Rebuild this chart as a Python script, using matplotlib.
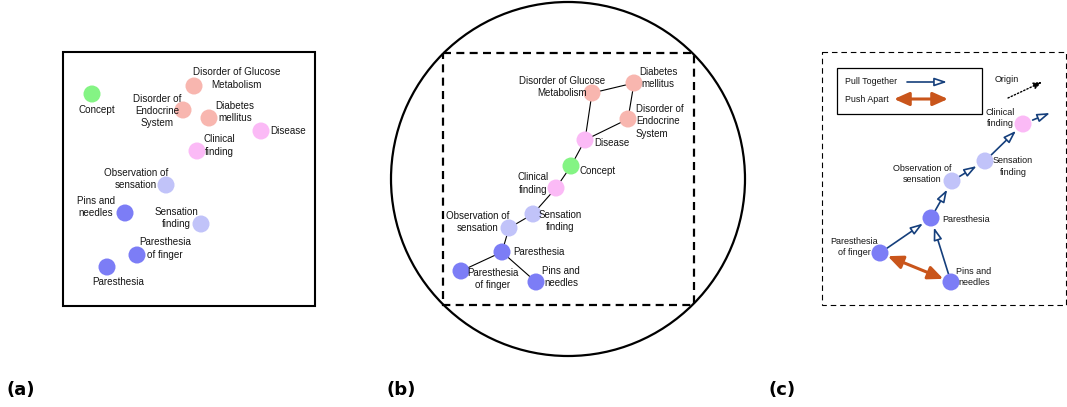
import numpy as np
import matplotlib.pyplot as plt
from matplotlib.patches import Rectangle, Circle

plt.rcParams['font.family'] = ['Liberation Sans', 'DejaVu Sans']

# concepts shared by the three panels
names = ['Concept', 'Disorder of Glucose\nMetabolism', 'Disorder of\nEndocrine\nSystem',
         'Diabetes\nmellitus', 'Disease', 'Clinical\nfinding', 'Observation of\nsensation',
         'Sensation\nfinding', 'Pins and\nneedles', 'Paresthesia\nof finger', 'Paresthesia']
groups = [0, 1, 1, 1, 2, 2, 3, 3, 4, 4, 4]
group_colors = ['#84f484', '#f8b6af', '#fbbaf6', '#c1c3f9', '#7c7df6']

# (a) flat embedding, pixel positions
a_x = [92, 194, 183, 209, 261, 197, 166, 201, 125, 137, 107]
a_y = [94, 86, 110, 118, 131, 151, 185, 224, 213, 255, 267]

# (b) hyperbolic embedding
b_x = [571, 592, 628, 634, 585, 556, 509, 533, 536, 461, 502]
b_y = [166, 93, 119, 83, 140, 188, 228, 214, 282, 271, 252]
b_edges = [(1, 3), (3, 2), (1, 4), (2, 4), (4, 0), (0, 5), (5, 7), (7, 6), (6, 10), (10, 9), (10, 8)]

# (c) training forces on a subset
c_idx = [5, 6, 7, 8, 9, 10]
c_x = [1023, 952, 985, 951, 880, 931]
c_y = [124, 181, 161, 282, 253, 218]
c_pull = [(9, 10), (8, 10), (10, 6), (6, 7), (7, 5)]
c_push = (9, 8)
c_out = (1050, 113)
origin_arrow = [(1008, 98), (1042, 82)]

panel_letters = ['(a)', '(b)', '(c)']

# label placement: dx, dy, alignment
a_lab = [(5, 16, 'center'), (43, -7.5, 'center'), (-26, 1, 'center'), (26, -6, 'center'),
         (27, 0, 'center'), (22, -5.5, 'center'), (-30, -6, 'center'), (-25, -6, 'center'),
         (-29, -6, 'center'), (28, -6.5, 'center'), (11, 15, 'center')]
b_lab = [(9, 5.5, 'left'), (-30, -6, 'center'), (8, 2.5, 'left'), (24, -5, 'center'),
         (9, 2.5, 'left'), (-23, -4.5, 'center'), (-31, -6, 'center'), (27, 7, 'center'),
         (25, -5, 'center'), (32, 8, 'center'), (11, 0, 'left')]
c_lab = {5: (-23, -6, 'center'), 6: (-30, -7, 'center'), 7: (28, 5.5, 'center'),
         8: (23, -5, 'center'), 9: (-26, -6, 'center'), 10: (11, 1, 'left')}

navy = '#153f7c'
orange = '#c9551b'
txt = '#151515'

fig = plt.figure(figsize=(10.67, 4.07), dpi=100)
ax = fig.add_axes([0, 0, 1, 1])
ax.set_xlim(0, 1067)
ax.set_ylim(407, 0)
ax.axis('off')


def label(x, y, s, lab, size):
    dx, dy, ha = lab
    ax.text(x + dx, y + dy, s, ha=ha, va='center', multialignment=ha,
            fontsize=size, color=txt, linespacing=1.3, zorder=4)


node_s = 150

# ---- (a)
ax.add_patch(Rectangle((63, 52), 252, 254, fill=False, lw=1.5, ec='black'))
cols = [group_colors[g] for g in groups]
ax.scatter(a_x, a_y, s=node_s, c=cols, lw=0, zorder=3)
for i in range(len(names)):
    label(a_x[i], a_y[i], names[i], a_lab[i], 7.1)

# ---- (b)
ax.add_patch(Circle((568, 179), 177, fill=False, lw=1.6, ec='black'))
ax.add_patch(Rectangle((443, 53), 251, 252, fill=False, lw=1.6, ec='black', ls=(0, (3.6, 2.4))))
for i, j in b_edges:
    ax.plot([b_x[i], b_x[j]], [b_y[i], b_y[j]], color='black', lw=0.8, zorder=2)
ax.scatter(b_x, b_y, s=node_s, c=cols, lw=0, zorder=3)
for i in range(len(names)):
    label(b_x[i], b_y[i], names[i], b_lab[i], 7.0)

# ---- (c)
ax.add_patch(Rectangle((822, 52), 244, 253, fill=False, lw=0.8, ec='black', ls=(0, (5, 3.5))))
ax.add_patch(Rectangle((837, 68), 145, 46, fill=False, lw=0.9, ec='black'))
pos_c = {k: (c_x[n], c_y[n]) for n, k in enumerate(c_idx)}
pull_style = dict(arrowstyle='-|>,head_length=0.75,head_width=0.25', color=navy,
                  fc='white', lw=1.2)
push_style = dict(arrowstyle='<|-|>,head_length=0.9,head_width=0.4', color=orange,
                  fc=orange, lw=2.2)

for i, j in c_pull:
    ax.annotate('', xy=pos_c[j], xytext=pos_c[i],
                arrowprops=dict(shrinkA=6, shrinkB=7, **pull_style), zorder=2)
ax.annotate('', xy=c_out, xytext=pos_c[5],
            arrowprops=dict(shrinkA=7.5, shrinkB=0, **pull_style), zorder=2)
ax.annotate('', xy=pos_c[c_push[1]], xytext=pos_c[c_push[0]],
            arrowprops=dict(shrinkA=6, shrinkB=6, **push_style), zorder=2)
ax.annotate('', xy=origin_arrow[1], xytext=origin_arrow[0],
            arrowprops=dict(arrowstyle='-|>,head_length=0.5,head_width=0.2', color='black',
                            lw=1.0, ls=(0, (1, 1.5)), shrinkA=0, shrinkB=0))
ax.text(1007, 79, 'Origin', ha='center', va='center', fontsize=6.5, color=txt)

# legend
ax.text(845, 82, 'Pull Together', ha='left', va='center', fontsize=6.4, color=txt)
ax.text(845, 99, 'Push Apart', ha='left', va='center', fontsize=6.4, color=txt)
ax.annotate('', xy=(947, 82), xytext=(907, 82), arrowprops=dict(shrinkA=0, shrinkB=0, **pull_style))
ax.annotate('', xy=(948, 99), xytext=(894, 99), arrowprops=dict(shrinkA=0, shrinkB=0, **push_style))

ax.scatter(c_x, c_y, s=node_s, c=[group_colors[groups[k]] for k in c_idx], lw=0, zorder=3)
for k in c_idx:
    label(pos_c[k][0], pos_c[k][1], names[k], c_lab[k], 6.45)

# panel letters
for lx, s in zip([7, 387, 769], panel_letters):
    ax.text(lx, 390, s, ha='left', va='center', fontsize=13, fontweight='bold',
            family='DejaVu Sans', color='black')

fig.savefig('out.png', dpi=100)
